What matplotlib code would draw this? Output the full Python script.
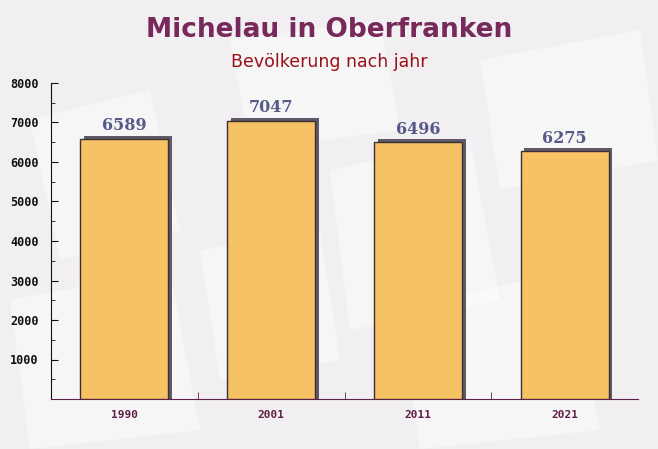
import numpy as np
import matplotlib
matplotlib.use("Agg")
import matplotlib.pyplot as plt
from matplotlib.patches import Polygon
from matplotlib.ticker import MultipleLocator, FixedLocator

# 데이터
years = ["1990", "2001", "2011", "2021"]
population = [6589, 7047, 6496, 6275]

title = "Michelau in Oberfranken"
subtitle = "Bevölkerung nach jahr"

fig = plt.figure(figsize=(6.58, 4.49), dpi=100)
fig.patch.set_facecolor("#f1eff1")

# 배경 장식 (흐린 봉투 모양)
bg = fig.add_axes([0, 0, 1, 1], zorder=0)
bg.set_xlim(0, 658)
bg.set_ylim(449, 0)
bg.axis("off")
shapes = [
    [(30, 120), (150, 90), (180, 230), (60, 260)],
    [(230, 40), (380, 20), (400, 130), (250, 150)],
    [(330, 170), (470, 140), (500, 300), (350, 330)],
    [(480, 60), (640, 30), (658, 160), (500, 190)],
    [(10, 300), (170, 270), (200, 430), (30, 449)],
    [(400, 310), (570, 270), (600, 430), (420, 449)],
    [(200, 250), (320, 230), (340, 360), (220, 380)],
]
for pts in shapes:
    bg.add_patch(Polygon(pts, closed=True, facecolor="white", alpha=0.45, edgecolor="none"))

ax = fig.add_axes([51 / 658, 50 / 449, 587 / 658, 316 / 449], zorder=1)
ax.patch.set_alpha(0)

x = np.arange(len(years))
width = 0.6
# 그림자
ax.bar(x + 0.025, np.array(population) + 75, width=width, color="#5f5a66", zorder=2)
bars = ax.bar(x, population, width=width, color="#f6c263", edgecolor="#3a3038",
              linewidth=1.0, zorder=3)

for xi, v in zip(x, population):
    ax.text(xi, v + 110, str(v), ha="center", va="bottom", fontsize=11.5,
            fontweight="bold", family="DejaVu Serif", color="#555a88", zorder=4)

ax.set_xlim(-0.5, 3.5)
ax.set_ylim(0, 8000)
ax.yaxis.set_major_locator(FixedLocator(range(1000, 8001, 1000)))
ax.yaxis.set_minor_locator(MultipleLocator(500))
ax.set_xticks(x)
ax.set_xticklabels(years)
ax.xaxis.set_minor_locator(FixedLocator([0.5, 1.5, 2.5]))

for lbl in ax.get_yticklabels():
    lbl.set_family("DejaVu Sans Mono")
    lbl.set_fontweight("bold")
    lbl.set_fontsize(8.5)
    lbl.set_color("#111111")
for lbl in ax.get_xticklabels():
    lbl.set_family("DejaVu Sans Mono")
    lbl.set_fontweight("bold")
    lbl.set_fontsize(8)
    lbl.set_color("#5e2046")

ax.tick_params(axis="y", which="major", direction="in", length=5, color="#111111", pad=9)
ax.tick_params(axis="y", which="minor", direction="in", length=3, color="#111111")
ax.tick_params(axis="x", which="major", length=0, pad=8)
ax.tick_params(axis="x", which="minor", direction="in", length=5, color="#5e2046")

for s in ["top", "right"]:
    ax.spines[s].set_visible(False)
ax.spines["left"].set_color("#111111")
ax.spines["bottom"].set_color("#5e2046")

fig.text(0.5, 1 - 30 / 449, title, ha="center", va="center", fontsize=19,
         fontweight="bold", color="#76295a")
fig.text(0.5, 1 - 62 / 449, subtitle, ha="center", va="center", fontsize=12.5,
         color="#9a1018")

plt.savefig("out.png", dpi=100)
plt.close()
